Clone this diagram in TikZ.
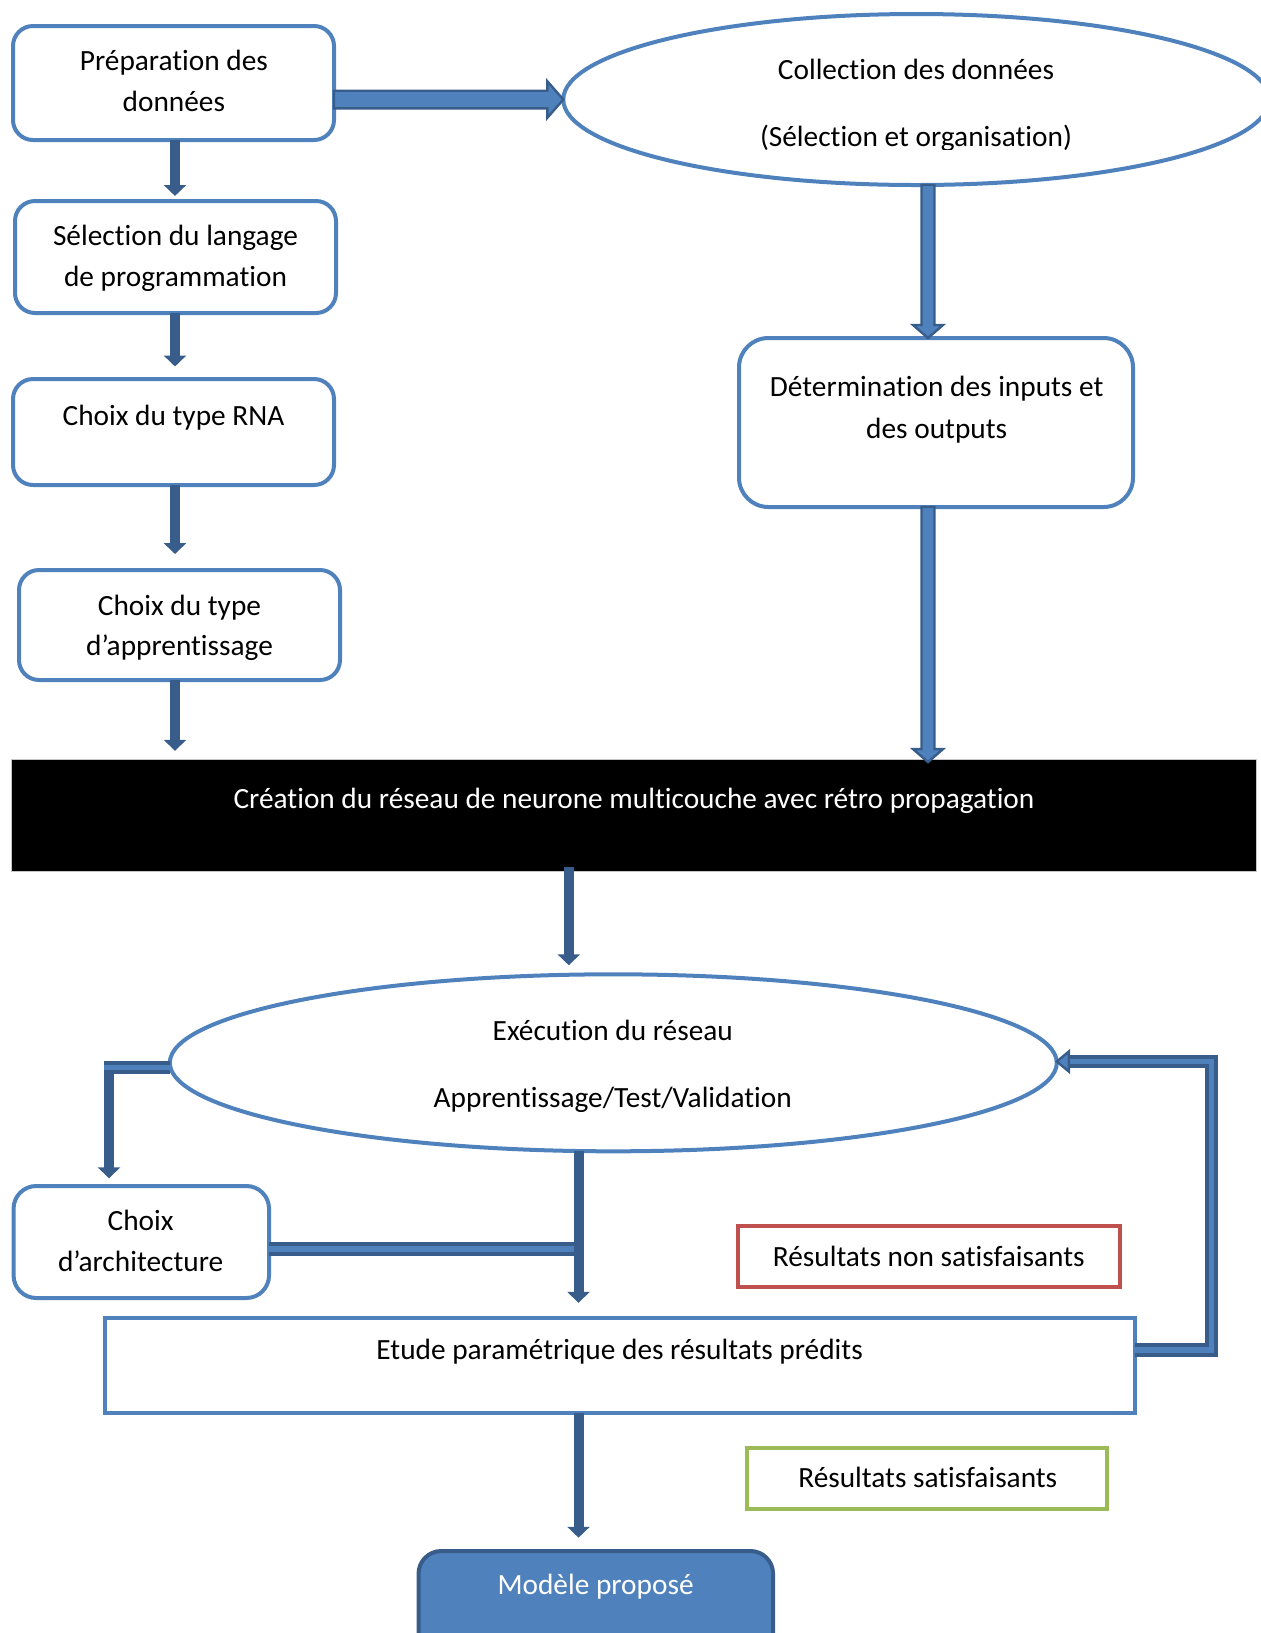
\documentclass[tikz,border=0pt]{standalone}
\usepackage{fontspec}
\setmainfont{Carlito}[RawFeature={-liga;-clig;-calt;-dlig}]
\usetikzlibrary{arrows.meta,shapes.geometric,calc}
\definecolor{accent}{HTML}{4F81BD}
\definecolor{dark}{HTML}{385D8A}
\definecolor{redline}{HTML}{C0504D}
\definecolor{greenline}{HTML}{9BBB59}

% vertical block arrow with a light body and a dark outline
\newcommand\fatvert[2]{%
  \draw[fat] ($(#1)+(-6.5,0)$) -- ($(#2)+(-6.5,-13)$) -- ($(#2)+(-15,-13)$) -- (#2)
    -- ($(#2)+(15,-13)$) -- ($(#2)+(6.5,-13)$) -- ($(#1)+(6.5,0)$) -- cycle;}

\begin{document}
\begin{tikzpicture}[x=0.375pt,y=-0.375pt,
  wh/.style 2 args={minimum width=#1*0.375pt,minimum height=#2*0.375pt},
  pbox/.style={draw=accent,line width=1.5pt,rounded corners=7.5pt,fill=white,inner sep=0pt,outer sep=0pt},
  oval/.style={ellipse,draw=accent,line width=1.5pt,fill=white,inner sep=0pt,outer sep=0pt},
  flat/.style={draw=#1,line width=1.4pt,fill=white,inner sep=0pt,outer sep=0pt},
  txt/.style={anchor=base,inner sep=0pt,font=\fontsize{11pt}{13.4pt}\selectfont},
  arr/.style={draw=dark,line width=3.75pt,-{Triangle[width=8.25pt,length=4.1pt]}},
  dbl/.style={draw=dark,line width=1.5pt,double=accent,double distance=1.9pt,line join=miter},
  fat/.style={draw=dark,fill=accent,line width=0.9pt,line join=miter}]
\useasboundingbox (0,0) rectangle (1261,1633);
\clip (0,0) rectangle (1261,1633);

% ---- shapes ----
\node[pbox,wh={321}{114}] (prep) at (173.5,83) {};
\node[pbox,wh={321}{112}] (lang) at (175.5,257) {};
\node[pbox,wh={321}{106}] (rna) at (173.5,432) {};
\node[pbox,wh={321}{110}] (app) at (179.5,625) {};
\node[fill=black,draw=gray!45,line width=0.4pt,inner sep=0pt,outer sep=0pt,wh={1245}{112.5}] (crea) at (634.2,815.3) {};
\node[oval,wh={706}{171}] (coll) at (916.3,99.5) {};
\node[pbox,rounded corners=11pt,wh={394}{169}] (det) at (936,422.5) {};
\node[oval,wh={887}{177}] (exec) at (613.3,1062.8) {};
\node[pbox,rounded corners=8.5pt,wh={255.5}{112}] (archi) at (141.3,1242) {};
\node[flat=redline,wh={382}{61}] (bad) at (929,1256.5) {};
\node[flat=accent,wh={1030}{95}] (etude) at (620,1365.5) {};
\node[flat=greenline,wh={360}{61}] (good) at (927,1478.5) {};
\node[pbox,draw=dark,fill=accent,rounded corners=8.5pt,wh={354.5}{114}] (model) at (595.8,1608) {};

% ---- connectors ----
\coordinate (lx) at (175,0);
\draw[arr,shorten >=1.9pt] (prep.south -| lx) -- (lang.north -| lx);
\draw[arr,shorten >=4.7pt] (lang.south -| lx) -- (rna.north -| lx);
\draw[arr,shorten >=6pt] (rna.south -| lx) -- (app.north -| lx);
\draw[arr,shorten >=3.1pt] (app.south -| lx) -- (crea.north -| lx);

\coordinate (fy) at (0,99.5);
\draw[fat] ($(prep.east|-fy)+(0,-8.8)$) -- ($(coll.west)+(-16,-8.8)$) -- ($(coll.west)+(-16,-18.3)$)
  -- (coll.west) -- ($(coll.west)+(-16,18.3)$) -- ($(coll.west)+(-16,8.8)$) -- ($(prep.east|-fy)+(0,8.8)$) -- cycle;

\coordinate (cx) at (928,0);
\coordinate (c1) at (coll.south -| cx);
\coordinate (c2) at (det.north -| cx);
\fatvert{c1}{c2}
\coordinate (c3) at (det.south -| cx);
\coordinate (c4) at ($(crea.north -| cx)+(0,3)$);
\fatvert{c3}{c4}

\coordinate (mx) at (568.8,0);
\draw[arr,shorten >=3.4pt] ($(crea.south -| mx)+(0,-5)$) -- (exec.north -| mx);

% left elbow towards the architecture box
\coordinate (el) at (109,1067.5);
\draw[arr,shorten >=2.9pt] ($(el)+(0,-6)$) -- (el |- archi.north);
\draw[dbl] (exec.west |- el) -- ($(el)+(-5.5,0)$);

% central trunk and the branch from the architecture box
\coordinate (jn) at (578.5,1249);
\draw[dbl] (archi.east |- jn) -- (jn);
\draw[arr,shorten >=5.7pt] (exec.south -| jn) -- (etude.north -| jn);

% feedback loop back to the execution step
\coordinate (fb1) at (1211.5,1350);
\coordinate (fb2) at (1211.5,1061.5);
\coordinate (fbt) at (exec.east |- fb2);
\draw[dbl] (etude.east |- fb1) -- (fb1) -- (fb2) -- ($(fbt)+(11,0)$);
\draw[fat] ($(fbt)+(12,-10)$) -- (fbt) -- ($(fbt)+(12,10)$) -- cycle;

\draw[arr,shorten >=5pt] (etude.south -| jn) -- (model.north -| jn);

% ---- texts ----
\node[txt] (t1a) at (173.9,70.4) {Préparation des};
\node[txt] (t1b) at (173.9,111) {données};
\node[txt] (t2a) at (175.5,245.4) {Sélection du langage};
\node[txt] (t2b) at (175.5,286) {de programmation};
\node[txt] (t3) at (173.5,425.5) {Choix du type RNA};
\node[txt] (t4a) at (179.5,615) {Choix du type};
\node[txt] (t4b) at (179.5,655.7) {d’apprentissage};
\node[txt,text=white] (t5) at (634,808.7) {Création du réseau de neurone multicouche avec rétro propagation};
\node[txt] (t6a) at (916,79) {Collection des données};
\begin{scope}
  \clip (560,100) rectangle (1261,149);
  \node[txt] (t6b) at (916,146.5) {(Sélection et organisation)};
\end{scope}
\node[txt] (t7a) at (936.7,396.4) {Détermination des inputs et};
\node[txt] (t7b) at (936.7,438) {des outputs};
\node[txt] (t8a) at (612.8,1040) {Exécution du réseau};
\node[txt] (t8b) at (612.8,1107.6) {Apprentissage/Test/Validation};
\node[txt] (t9a) at (140.6,1230.5) {Choix};
\node[txt] (t9b) at (140.6,1271.1) {d’architecture};
\node[txt] (t10) at (928.8,1266) {Résultats non satisfaisants};
\node[txt] (t11) at (619.6,1359.5) {Etude paramétrique des résultats prédits};
\node[txt] (t12) at (927.8,1487.6) {Résultats satisfaisants};
\node[txt,text=white] (t13) at (595.6,1594) {Modèle proposé};
\end{tikzpicture}
\end{document}
